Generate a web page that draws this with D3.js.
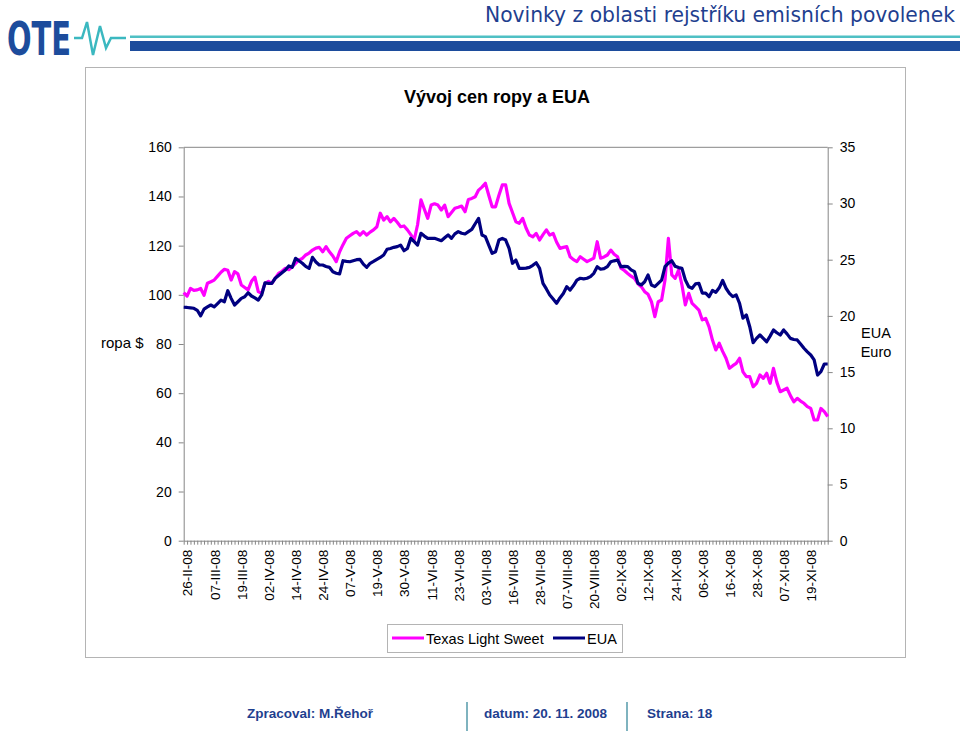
<!DOCTYPE html>
<html>
<head>
<meta charset="utf-8">
<script src="https://cdn.jsdelivr.net/npm/d3@7"></script>
<style>
  html, body { margin: 0; padding: 0; background: #fff; }
  svg { display: block; font-family: "Liberation Sans", Arial, sans-serif; }
</style>
</head>
<body>
<svg id="chart" width="960" height="731"></svg>
<script>
// ---------------- DATA ----------------
const pageTitle = "Novinky z oblasti rejstříku emisních povolenek";
const chartTitle = "Vývoj cen ropy a EUA";
const seriesNames = ["Texas Light Sweet", "EUA"];
const leftAxisTitle = "ropa $";
const rightAxisTitle = ["EUA", "Euro"];
const leftTicks = [0, 20, 40, 60, 80, 100, 120, 140, 160];
const rightTicks = [0, 5, 10, 15, 20, 25, 30, 35];
// category labels shown every 8th trading day, first one on the 2nd point
const dateLabels = ["26-II-08","07-III-08","19-III-08","02-IV-08","14-IV-08","24-IV-08",
  "07-V-08","19-V-08","30-V-08","11-VI-08","23-VI-08","03-VII-08","16-VII-08","28-VII-08",
  "07-VIII-08","20-VIII-08","02-IX-08","12-IX-08","24-IX-08","06-X-08","16-X-08","28-X-08",
  "07-XI-08","19-XI-08"];
const labelFirstIndex = 1;
const labelEvery = 8;
// Texas Light Sweet (USD / barrel), one value per trading day
const oilPrices = [
  100.9, 99.5, 102.6, 101.8, 102, 102.6, 99.8, 104.7, 105.3, 106,
  107.6, 109.2, 110.4, 110, 106, 109.4, 108.5, 104, 103, 102,
  105.5, 107.2, 101.3, 100.6, 104.7, 105.5, 104.7, 106.8, 108.7, 109.6,
  110.8, 110.2, 111.4, 112.8, 114.2, 114.8, 116.2, 117, 118.2, 119,
  119.3, 117.5, 119.6, 117.5, 115.8, 113.5, 117.5, 120.4, 123, 124,
  125, 125.7, 124.3, 125.7, 124.3, 125.5, 126.4, 127.7, 133.2, 130.4,
  131.8, 129.7, 131.1, 129.5, 127.7, 128, 126.4, 124.5, 122.3, 128.5,
  138.6, 134.8, 131.1, 136.5, 137, 136.5, 134.5, 136.5, 131.8, 133.5,
  135.2, 135.6, 136.1, 133.8, 138.8, 139.2, 139.9, 142.6, 143.8, 145.4,
  140.5, 135.8, 135.8, 140.5, 144.7, 144.7, 137.2, 133.5, 129.7, 129.1,
  131.1, 127.2, 124.3, 123.6, 125, 122.3, 124.5, 126.4, 124.3, 125,
  121.5, 118.9, 119.3, 119.6, 115.5, 114.3, 113.5, 115.5, 114.5, 113.5,
  114.2, 114.9, 121.6, 114.9, 115.4, 116.2, 118.2, 116.5, 115.5, 110.8,
  109.9, 108.7, 107.6, 106.7, 104.5, 103.3, 101.3, 100.2, 97.2, 91.1,
  97.2, 97.9, 106, 123, 108.1, 106.7, 110.1, 104, 95.9, 100.6,
  96.5, 95.2, 93.8, 89.8, 90.4, 87, 81.6, 77.6, 80.3, 77,
  74.2, 70.1, 71.2, 72.1, 74.2, 68.7, 66.7, 66.7, 62.6, 64,
  67.4, 66, 68.1, 64, 70.1, 64.5, 60.6, 61.3, 62, 59,
  56.5, 57.9, 56.8, 55.9, 54.5, 53.8, 49.1, 49.1, 53.8, 52.5,
  50.5
];
// EUA (EUR / t CO2)
const euaPrices = [
  20.77, 20.75, 20.72, 20.68, 20.5, 20.0, 20.6, 20.8, 20.97, 20.8,
  21.1, 21.4, 21.26, 22.24, 21.56, 20.97, 21.26, 21.56, 21.7, 22.06,
  21.77, 21.6, 21.4, 21.86, 22.95, 22.9, 22.9, 23.35, 23.6, 23.84,
  24.08, 24.44, 24.32, 25.12, 24.9, 24.68, 24.4, 24.23, 25.21, 24.8,
  24.53, 24.53, 24.4, 24.32, 23.93, 23.8, 23.73, 24.91, 24.85, 24.82,
  24.91, 25.0, 25.03, 24.6, 24.32, 24.68, 24.85, 25.03, 25.2, 25.42,
  25.93, 26.0, 26.1, 26.16, 26.3, 25.8, 26.0, 26.9, 26.6, 26.3,
  27.35, 27.1, 26.9, 26.9, 26.9, 26.8, 26.69, 26.95, 27.2, 26.9,
  27.3, 27.5, 27.35, 27.29, 27.5, 27.7, 28.2, 28.68, 27.2, 27.05,
  26.3, 25.57, 25.71, 26.75, 26.9, 26.75, 26.0, 24.68, 24.97, 24.23,
  24.23, 24.25, 24.32, 24.5, 24.73, 24.23, 22.9, 22.4, 21.86, 21.5,
  21.12, 21.6, 22.0, 22.6, 22.3, 22.7, 23.19, 23.35, 23.3, 23.35,
  23.5, 23.79, 24.38, 24.15, 24.2, 24.38, 24.82, 24.9, 24.97, 24.38,
  24.4, 24.38, 24.1, 23.93, 22.9, 22.75, 23.04, 23.64, 22.75, 22.6,
  22.9, 23.19, 24.38, 24.7, 24.91, 24.41, 24.3, 24.23, 23.19, 22.6,
  22.46, 22.85, 22.9, 22.03, 22.03, 21.71, 22.27, 22.1, 22.5, 23.15,
  22.46, 22.0, 21.71, 21.86, 21.12, 19.8, 20.08, 19.04, 17.62, 18.0,
  18.3, 18.0, 17.7, 18.2, 18.75, 18.5, 18.3, 18.75, 18.4, 18.0,
  17.9, 17.86, 17.5, 17.12, 16.8, 16.52, 16.08, 14.74, 15.04, 15.72,
  15.72
];
const footerAuthor = "Zpracoval: M.Řehoř";
const footerDate = "datum: 20. 11. 2008";
const footerPage = "Strana: 18";

// ---------------- LAYOUT ----------------
const svg = d3.select("#chart");
const C = { pink: "#ff00ff", navy: "#000080", axis: "#868686", dark: "#1f3f8f" };
const plot = { l: 183.7, r: 827.7, t: 147.3, b: 540.7 };

// ---------- header ----------
svg.append("text").attr("x", 955).attr("y", 22).attr("text-anchor", "end")
  .attr("font-family", "'Liberation Sans Narrow','Arial Narrow','DejaVu Sans Condensed',sans-serif")
  .attr("font-size", 22).attr("fill", "#1f3f8f")
  .attr("textLength", 470).attr("lengthAdjust", "spacingAndGlyphs")
  .text(pageTitle);
svg.append("text").attr("x", 7).attr("y", 55)
  .attr("font-family", "'Liberation Sans Narrow','Arial Narrow','DejaVu Sans Condensed',sans-serif")
  .attr("font-weight", "bold").attr("font-size", 46).attr("fill", "#1c4c9c")
  .attr("textLength", 64).attr("lengthAdjust", "spacingAndGlyphs")
  .text("OTE");
svg.append("polyline")
  .attr("points", "74,38 82,38 87,22 93,55 100,26 106,48 111,38 126,38")
  .attr("fill", "none").attr("stroke", "#3bb8c0").attr("stroke-width", 2.5)
  .attr("stroke-linejoin", "miter");
svg.append("rect").attr("x", 130).attr("y", 35.5).attr("width", 830).attr("height", 2.5).attr("fill", "#4fc0c4");
svg.append("rect").attr("x", 130).attr("y", 41).attr("width", 830).attr("height", 10).attr("fill", "#1c4c9c");

// ---------- chart frame ----------
svg.append("rect").attr("x", 85.5).attr("y", 67.5).attr("width", 820).attr("height", 590)
  .attr("fill", "#fff").attr("stroke", "#b4b4b4").attr("stroke-width", 1);

svg.append("text").attr("x", 497).attr("y", 103).attr("text-anchor", "middle")
  .attr("font-size", 18).attr("font-weight", "bold").text(chartTitle);

// ---------- scales ----------
const x = d3.scalePoint().domain(d3.range(oilPrices.length)).range([plot.l, plot.r]);
const yL = d3.scaleLinear().domain([0, 160]).range([plot.b, plot.t]);
const yR = d3.scaleLinear().domain([0, 35]).range([plot.b, plot.t]);

// plot area border (top edge)
svg.append("line").attr("x1", plot.l).attr("x2", plot.r).attr("y1", plot.t).attr("y2", plot.t)
  .attr("stroke", C.axis);

// axes
const gL = svg.append("g").attr("transform", `translate(${plot.l},0)`)
  .call(d3.axisLeft(yL).tickValues(leftTicks).tickSize(5).tickSizeOuter(0).tickPadding(7));
const gR = svg.append("g").attr("transform", `translate(${plot.r},0)`)
  .call(d3.axisRight(yR).tickValues(rightTicks).tickSize(5).tickSizeOuter(0).tickPadding(7));
const labelAt = i => {
  const k = (i - labelFirstIndex) / labelEvery;
  return Number.isInteger(k) && k >= 0 && k < dateLabels.length ? dateLabels[k] : "";
};
const gX = svg.append("g").attr("transform", `translate(0,${plot.b})`)
  .call(d3.axisBottom(x).tickValues(d3.range(oilPrices.length)).tickSize(4).tickSizeOuter(0).tickFormat(labelAt));

[gL, gR, gX].forEach(g => {
  g.select(".domain").attr("stroke", C.axis);
  g.selectAll(".tick line").attr("stroke", C.axis);
  g.selectAll("text").attr("font-family", "'Liberation Sans', Arial, sans-serif").attr("fill", "#000");
});
gL.selectAll("text").attr("font-size", 14);
gR.selectAll("text").attr("font-size", 14);
gX.selectAll("text").attr("font-size", 13.5)
  .attr("transform", "rotate(-90)")
  .attr("text-anchor", "end")
  .attr("x", -9).attr("y", 0).attr("dy", "0.36em");

// axis titles
svg.append("text").attr("x", 101).attr("y", 348).attr("font-size", 15).text(leftAxisTitle);
svg.append("text").attr("x", 876).attr("y", 338).attr("text-anchor", "middle")
  .attr("font-size", 14.5).text(rightAxisTitle[0]);
svg.append("text").attr("x", 876).attr("y", 357).attr("text-anchor", "middle")
  .attr("font-size", 14.5).text(rightAxisTitle[1]);

// ---------- lines ----------
const lineL = d3.line().x((d, i) => x(i)).y(d => yL(d));
const lineR = d3.line().x((d, i) => x(i)).y(d => yR(d));
svg.append("path").datum(oilPrices).attr("d", lineL)
  .attr("fill", "none").attr("stroke", C.pink).attr("stroke-width", 3.2).attr("stroke-linejoin", "round");
svg.append("path").datum(euaPrices).attr("d", lineR)
  .attr("fill", "none").attr("stroke", C.navy).attr("stroke-width", 3.2).attr("stroke-linejoin", "round");

// ---------- legend ----------
const lg = svg.append("g");
lg.append("rect").attr("x", 387.5).attr("y", 624.5).attr("width", 235).attr("height", 28)
  .attr("fill", "#fff").attr("stroke", "#b4b4b4");
const legendItems = [
  { name: seriesNames[0], color: C.pink, x0: 392 },
  { name: seriesNames[1], color: C.navy, x0: 553 }
];
legendItems.forEach(it => {
  lg.append("line").attr("x1", it.x0).attr("x2", it.x0 + 32).attr("y1", 638).attr("y2", 638)
    .attr("stroke", it.color).attr("stroke-width", 3);
  lg.append("text").attr("x", it.x0 + 34).attr("y", 643.5).attr("font-size", 14.5).text(it.name);
});

// ---------- footer ----------
const ft = svg.append("g").attr("font-weight", "bold").attr("font-size", 13.5).attr("fill", C.dark);
ft.append("text").attr("x", 247).attr("y", 718).text(footerAuthor);
ft.append("text").attr("x", 484).attr("y", 718).text(footerDate);
ft.append("text").attr("x", 647).attr("y", 718).text(footerPage);
[467, 627].forEach(xx => svg.append("line").attr("x1", xx).attr("x2", xx).attr("y1", 702).attr("y2", 731)
  .attr("stroke", "#7fb3bf").attr("stroke-width", 2));
</script>
</body>
</html>
